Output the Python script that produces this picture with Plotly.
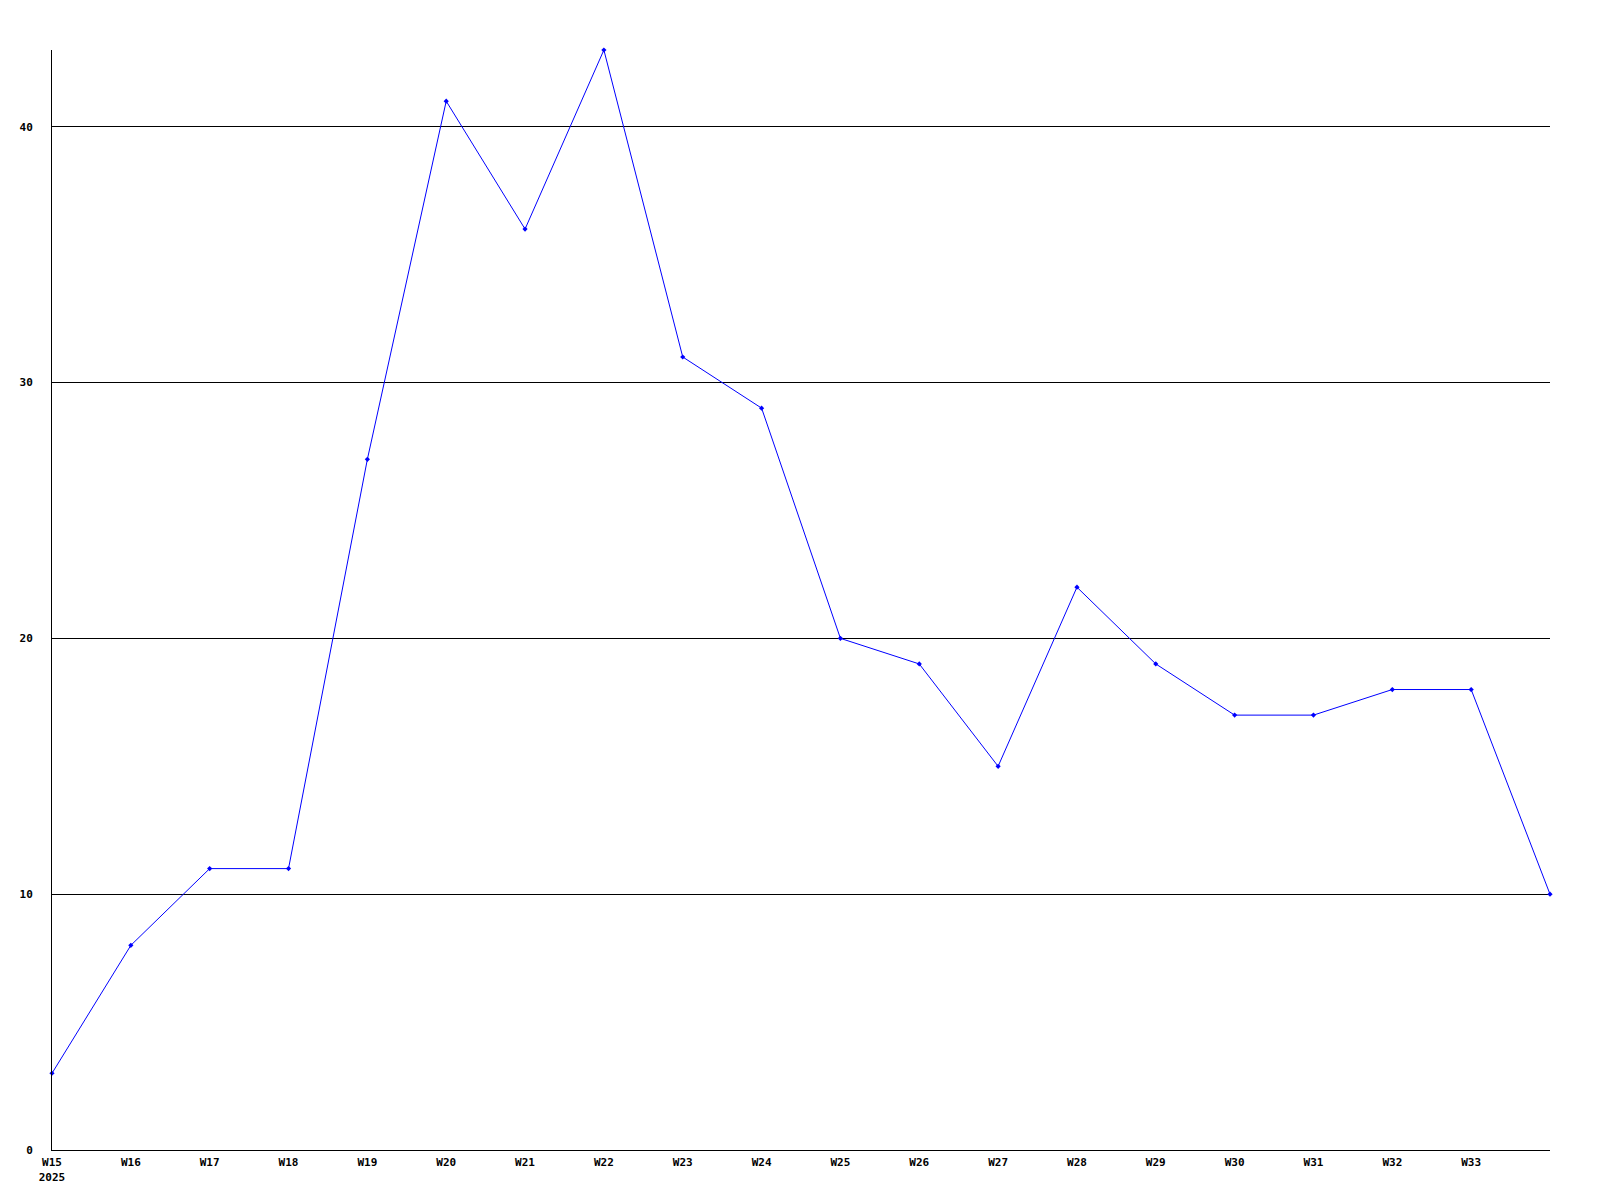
import plotly.graph_objects as go

weeks = ["W15", "W16", "W17", "W18", "W19", "W20", "W21", "W22", "W23", "W24",
         "W25", "W26", "W27", "W28", "W29", "W30", "W31", "W32", "W33", "W34"]
values = [3, 8, 11, 11, 27, 41, 36, 43, 31, 29, 20, 19, 15, 22, 19, 17, 17, 18, 18, 10]
tick_labels = ["W15<br>2025", "W16", "W17", "W18", "W19", "W20", "W21", "W22", "W23",
               "W24", "W25", "W26", "W27", "W28", "W29", "W30", "W31", "W32", "W33"]
y_ticks = [0, 10, 20, 30, 40]

x = list(range(len(weeks)))

fig = go.Figure()
fig.add_trace(go.Scatter(
    x=x, y=values, mode="lines+markers",
    line=dict(color="#0000ff", width=1),
    marker=dict(color="#0000ff", symbol="diamond", size=4),
    cliponaxis=False, hoverinfo="skip", showlegend=False,
))

tfont = dict(family="DejaVu Sans Mono", size=11, color="black", weight="bold")

fig.update_layout(
    width=1600, height=1200,
    margin=dict(l=42, r=58, t=42, b=58),
    paper_bgcolor="white", plot_bgcolor="white",
    xaxis=dict(
        range=[0, len(weeks) - 1], tickvals=x[:len(tick_labels)], ticktext=tick_labels,
        showgrid=False, zeroline=False, showline=True, linecolor="black", linewidth=1,
        ticks="", tickfont=tfont, ticklabelstandoff=2,
    ),
    yaxis=dict(
        range=[0, 43], tickvals=y_ticks, showgrid=True, gridcolor="black", gridwidth=1,
        zeroline=False, showline=True, linecolor="black", linewidth=1,
        ticks="", tickfont=tfont, ticklabelstandoff=16,
    ),
)

fig.write_html("out.html")
